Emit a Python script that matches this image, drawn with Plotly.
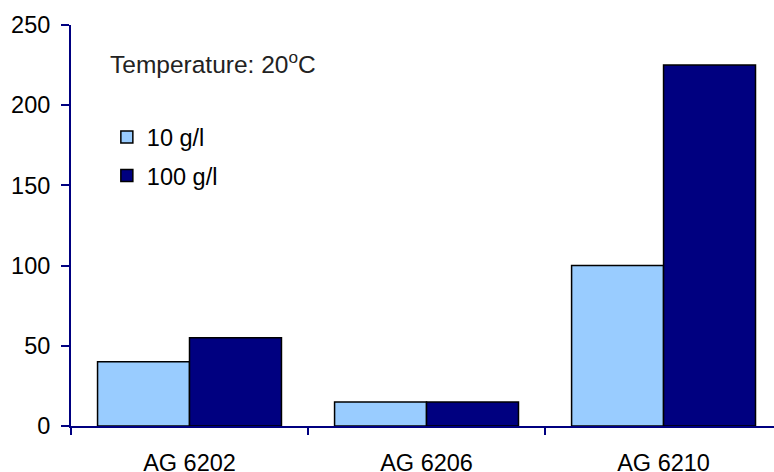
import plotly.graph_objects as go

categories = ["AG 6202", "AG 6206", "AG 6210"]
series_10 = [40, 15, 100]
series_100 = [55, 15, 225]
y_ticks = [0, 50, 100, 150, 200, 250]

AXIS = "#000080"
FONT = "Liberation Sans, Arial, sans-serif"
FS = 23.5

fig = go.Figure()
fig.add_trace(go.Bar(name="10 g/l", x=categories, y=series_10,
                     marker=dict(color="#99CCFF", line=dict(color="black", width=1.5)),
                     legendgroup="a"))
fig.add_trace(go.Bar(name="100 g/l", x=categories, y=series_100,
                     marker=dict(color="#000080", line=dict(color="black", width=1.5)),
                     legendgroup="b"))

fig.update_layout(
    width=774, height=472,
    margin=dict(l=71, r=0, t=25, b=46, autoexpand=False),
    paper_bgcolor="white", plot_bgcolor="white",
    barmode="group", bargap=0.224, bargroupgap=0,
    font=dict(family=FONT, size=FS, color="black"),
    showlegend=True,
    legend=dict(x=0.051, y=0.775, xanchor="left", yanchor="top",
                bgcolor="rgba(0,0,0,0)", font=dict(size=FS, family=FONT),
                tracegroupgap=5, itemwidth=30),
    annotations=[dict(text="Temperature: 20<sup style='font-size:14px'>o</sup>C", xref="paper", yref="paper",
                      x=0.052, y=0.907, xanchor="left", yanchor="middle",
                      showarrow=False, font=dict(size=FS + 1, family=FONT, color="#222"))],
)
fig.update_xaxes(
    type="category", range=[-0.5, 2.466], showline=True, linecolor=AXIS, linewidth=2,
    ticks="outside", tickson="boundaries", ticklen=7, tickcolor=AXIS, tickwidth=2,
    showgrid=False, zeroline=False, ticklabelstandoff=15,
)
fig.update_yaxes(
    range=[0, 250], tickvals=y_ticks, showline=True, linecolor=AXIS, linewidth=2,
    ticks="outside", ticklen=8, tickcolor=AXIS, tickwidth=2,
    showgrid=False, zeroline=False, ticklabelstandoff=6,
)
fig.write_html("out.html", config={"displayModeBar": False},
               post_script="document.body.style.margin='0';document.body.style.overflow='hidden';")
